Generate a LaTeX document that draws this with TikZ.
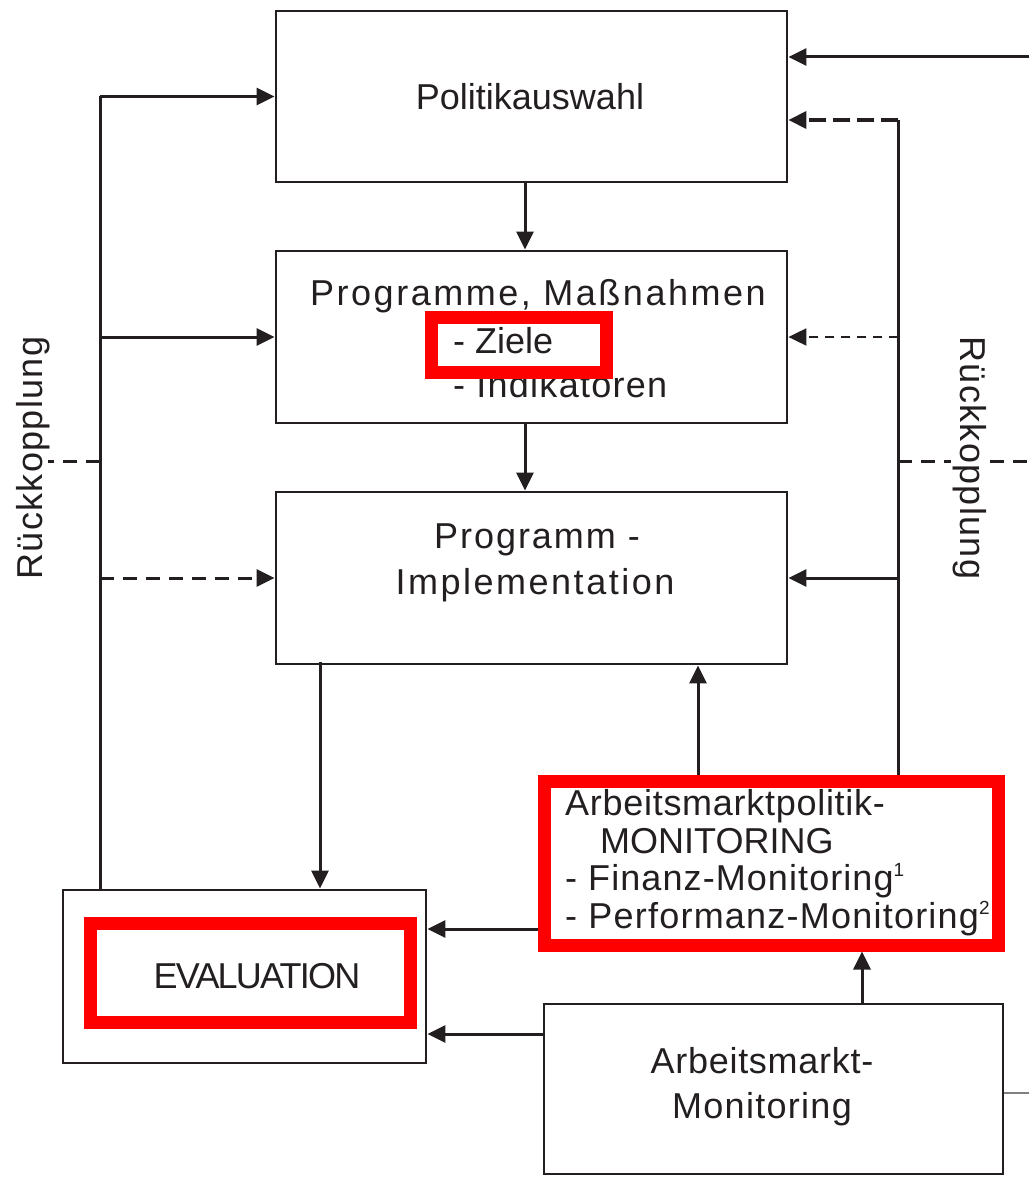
\documentclass[tikz,border=0pt]{standalone}
\usepackage{fontspec}
\setmainfont{Liberation Sans}
\usetikzlibrary{arrows.meta}
\definecolor{ink}{HTML}{231F20}
\definecolor{hl}{HTML}{FF0000}
\newcommand\ls[1]{\addfontfeature{LetterSpace=#1}}
\tikzset{
  box/.style={draw=ink, line width=2.8pt, rectangle, inner sep=0pt},
  redbox/.style={draw=hl, line width=13pt, rectangle, inner sep=0pt},
  txt/.style={font=\fontsize{36}{44}\selectfont, text=ink, inner sep=0pt},
  ln/.style={draw=ink, line width=3pt},
  arr/.style={ln, -{Triangle[length=18pt,width=17pt]}},
  dsh/.style={dash pattern=on 14pt off 9pt},
  dshb/.style={line width=3.5pt, dash pattern=on 17pt off 7pt},
  dshs/.style={line width=2pt, dash pattern=on 9pt off 7pt},
}
\begin{document}
\begin{tikzpicture}[x=1pt,y=-1pt]
\useasboundingbox (0,0) rectangle (1029,1177);
% boxes
\node[box, minimum width=511pt, minimum height=171pt] (pol) at (531.5,96.5) {};
\node[box, minimum width=511pt, minimum height=172pt] (prog) at (531.5,337) {};
\node[box, minimum width=511pt, minimum height=172pt] (impl) at (531.5,578) {};
\node[box, minimum width=363pt, minimum height=173pt] (eval) at (244.5,976.5) {};
\node[box, minimum width=459pt, minimum height=170pt] (am) at (773.5,1089) {};
\node[redbox, minimum width=454pt, minimum height=163.5pt] (mon) at (771,863.25) {};
% texts
\node[txt] (tpol) at (530,97) {Politikauswahl};
\node[txt, anchor=base west] (tp1) at (310,305) {\ls{7}Programme, Maßnahmen};
\node[txt, anchor=base west] (tp2) at (453,353) {- Ziele};
\node[txt, anchor=base west] (tp3) at (453,397) {\ls{3.5}- Indikatoren};
\node[txt, anchor=base] (ti1) at (537,548) {\ls{5.5}Programm -};
\node[txt, anchor=base] (ti2) at (535,594) {\ls{7}Implementation};
\node[txt, anchor=base west] (tm1) at (565,815) {\ls{2}Arbeitsmarktpolitik-};
\node[txt, anchor=base west] (tm2) at (600,853) {MONITORING};
\node[txt, anchor=base west] (tm3) at (565,890) {\ls{3}- Finanz-Monitoring\raisebox{14pt}{\fontsize{19}{20}\selectfont 1}};
\node[txt, anchor=base west] (tm4) at (565,928) {\ls{3.4}- Performanz-Monitoring\raisebox{14pt}{\fontsize{19}{20}\selectfont 2}};
\node[txt, anchor=base] (tev) at (257,988) {\ls{-5}EVALUATION};
\node[txt, anchor=base] (ta1) at (762,1073) {\ls{2}Arbeitsmarkt-};
\node[txt, anchor=base] (ta2) at (762,1118) {\ls{3.6}Monitoring};
% red highlight boxes
\node[redbox, minimum width=175pt, minimum height=54.5pt] (rz) at (519,344.75) {};
\node[redbox, minimum width=320pt, minimum height=99pt] (rev) at (250,972.5) {};
% helper coordinates
\coordinate (lx) at (100,0);
\coordinate (rx) at (898,0);
\coordinate (rtop) at (898,120);
\coordinate (tr) at (1029,57);
\coordinate (lstub) at (48,461);
\coordinate (rstub) at (1029,461);
\coordinate (ex) at (320,0);
\coordinate (mx) at (698,0);
\coordinate (ax) at (862,0);
\coordinate (y1) at (0,929);
\coordinate (y2) at (0,1034);
\coordinate (gy) at (1029,1093);
% vertical flow
\draw[arr] ([xshift=-6.5pt]pol.south) -- ([xshift=-6.5pt]prog.north);
\draw[arr] ([xshift=-6.5pt]prog.south) -- ([xshift=-6.5pt]impl.north);
\draw[arr] ([yshift=3pt]impl.south -| ex) -- (eval.north -| ex);
% left feedback
\draw[ln] (eval.north -| lx) -- (lx |- pol.west);
\draw[arr] (lx |- pol.west) -- (pol.west);
\draw[arr] (lx |- prog.west) -- (prog.west);
\draw[arr, dsh] (lx |- impl.west) -- (impl.west);
\draw[ln, dsh] (lx |- lstub) -- (lstub);
% right feedback
\draw[ln] (mon.north -| rx) -- (rtop);
\draw[arr, dshb] (rtop) -- (rtop -| pol.east);
\draw[arr, dshs] (rx |- prog.east) -- (prog.east);
\draw[arr] (rx |- impl.east) -- (impl.east);
\draw[ln, dsh] (rx |- rstub) -- (rstub);
\draw[arr] (tr) -- (tr -| pol.east);
% monitoring links
\draw[arr] (mon.north -| mx) -- (impl.south -| mx);
\draw[arr] (mon.west |- y1) -- (eval.east |- y1);
\draw[arr] (am.west |- y2) -- (eval.east |- y2);
\draw[arr] (am.north -| ax) -- (mon.south -| ax);
\draw[draw=gray, line width=1.5pt] (am.east |- gy) -- (gy);
% rotated labels
\node[txt, rotate=90, anchor=base] (lrk) at (42,458) {\ls{3.7}Rückkopplung};
\node[txt, rotate=-90, anchor=base, fill=white, inner sep=2pt] (rrk) at (960,458) {\ls{3.7}Rückkopplung};
\end{tikzpicture}
\end{document}
